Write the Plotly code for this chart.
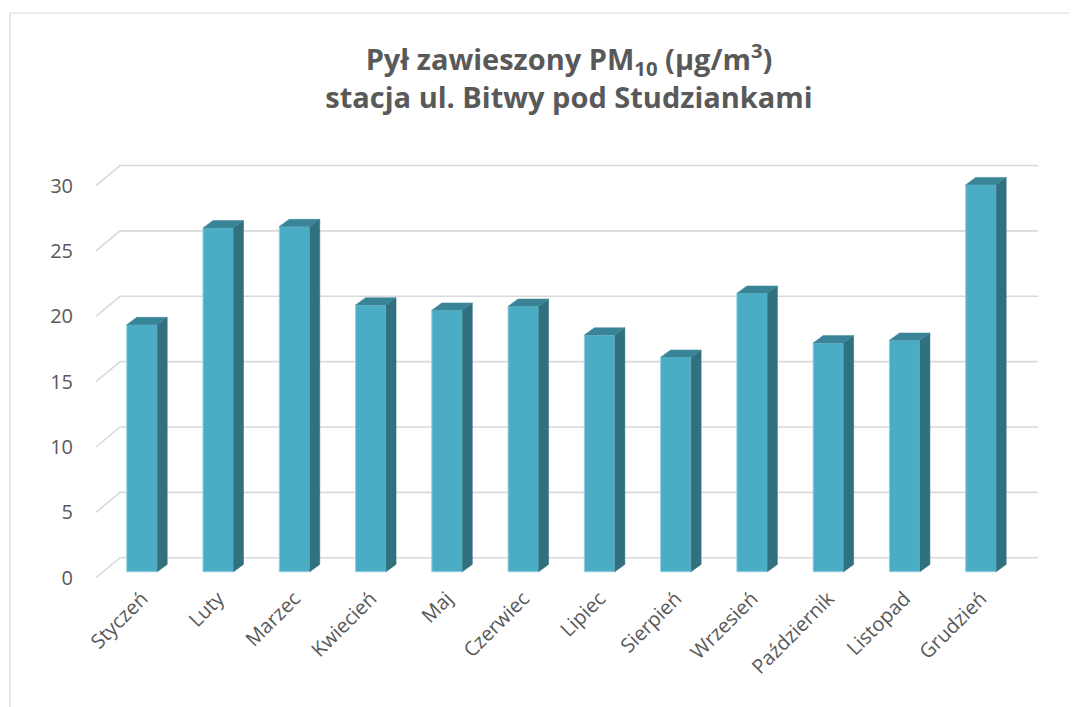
import plotly.graph_objects as go

months = ["Styczeń", "Luty", "Marzec", "Kwiecień", "Maj", "Czerwiec",
          "Lipiec", "Sierpień", "Wrzesień", "Październik", "Listopad", "Grudzień"]
pm10 = [18.9, 26.3, 26.4, 20.4, 20.0, 20.3, 18.1, 16.4, 21.3, 17.5, 17.7, 29.6]
y_ticks = [0, 5, 10, 15, 20, 25, 30]

# pseudo-3D geometry (data units)
BAR_W = 0.40
DX = 0.131
DY = 0.56
WALL_DY = 1.53
X_FRONT, X_BACK, X_RIGHT = -0.603, -0.288, 11.75

FRONT = "#4BACC6"
SIDE = "#31707F"
TOP = "#3A8497"
GRID = "#D9D9D9"
TXT = "#595959"

fig = go.Figure()

# back wall gridlines + left diagonals (front-plane axis y)
gx, gy = [], []
for t in y_ticks:
    gx += [X_FRONT, X_BACK, X_RIGHT, None]
    gy += [t, t + WALL_DY, t + WALL_DY, None]
fig.add_trace(go.Scatter(x=gx, y=gy, mode="lines", line=dict(color=GRID, width=1.6),
                         hoverinfo="skip", showlegend=False, xaxis="x", yaxis="y"))

# front faces of bars (bar plane, y2)
xs = list(range(len(months)))
fig.add_trace(go.Bar(x=xs, y=pm10, width=BAR_W, marker=dict(color=FRONT, line=dict(color="#8FCFE0", width=1)),
                     showlegend=False, xaxis="x", yaxis="y2"))

# side and top faces
sx, sy, tx, ty = [], [], [], []
for i, v in zip(xs, pm10):
    xr = i + BAR_W / 2
    xl = i - BAR_W / 2
    sx += [xr, xr + DX, xr + DX, xr, xr, None]
    sy += [0, DY, v + DY, v, 0, None]
    tx += [xl, xl + DX, xr + DX, xr, xl, None]
    ty += [v, v + DY, v + DY, v, v, None]
fig.add_trace(go.Scatter(x=sx, y=sy, mode="lines", fill="toself", fillcolor=SIDE,
                         line=dict(color=SIDE, width=0.5), hoverinfo="skip", showlegend=False,
                         xaxis="x", yaxis="y2"))
fig.add_trace(go.Scatter(x=tx, y=ty, mode="lines", fill="toself", fillcolor=TOP,
                         line=dict(color=TOP, width=0.5), hoverinfo="skip", showlegend=False,
                         xaxis="x", yaxis="y2"))

# page has an 8px body margin; figure coordinates are page px - 8
OFF = 8
L, R, T, B = 96 - OFF, 1040 - OFF, 150 - OFF, 580 - OFF
W, H = 1077 - OFF, 707 - OFF
pw, ph = R - L, B - T

def px_x(p):
    return (p - OFF - L) / pw

def px_y(p):
    return (B - (p - OFF)) / ph

fig.update_layout(
    width=W, height=H,
    margin=dict(l=L, r=W - R, t=T, b=H - B),
    paper_bgcolor="white", plot_bgcolor="white",
    font=dict(family="Open Sans", color=TXT),
    title=dict(
        text="Pył zawieszony PM<sub>10</sub> (µg/m<sup>3</sup>)<br>stacja ul. Bitwy pod Studziankami",
        x=(569 - OFF) / W, xanchor="center", xref="container",
        y=1 - (70 - OFF) / H, yanchor="top", yref="container",
        font=dict(family="Open Sans", size=29, color=TXT, weight="bold"),
    ),
    xaxis=dict(range=[X_FRONT, 11.774], tickmode="array", tickvals=xs, ticktext=months,
               tickangle=-45, showgrid=False, zeroline=False, showline=False, ticks="",
               tickfont=dict(size=20, color=TXT), ticklabelstandoff=2),
    yaxis=dict(range=[-0.176, 32.72], tickmode="array", tickvals=y_ticks,
               showgrid=False, zeroline=False, showline=False, ticks="",
               tickfont=dict(size=20, color=TXT), ticklabelstandoff=22),
    yaxis2=dict(range=[-0.635, 32.26], overlaying="y", visible=False),
    shapes=[dict(type="rect", xref="paper", yref="paper",
                 x0=px_x(10), x1=px_x(1090), y0=px_y(720), y1=px_y(13),
                 line=dict(color=GRID, width=1.2), fillcolor="rgba(0,0,0,0)", layer="below")],
)

fig.write_html("out.html")
